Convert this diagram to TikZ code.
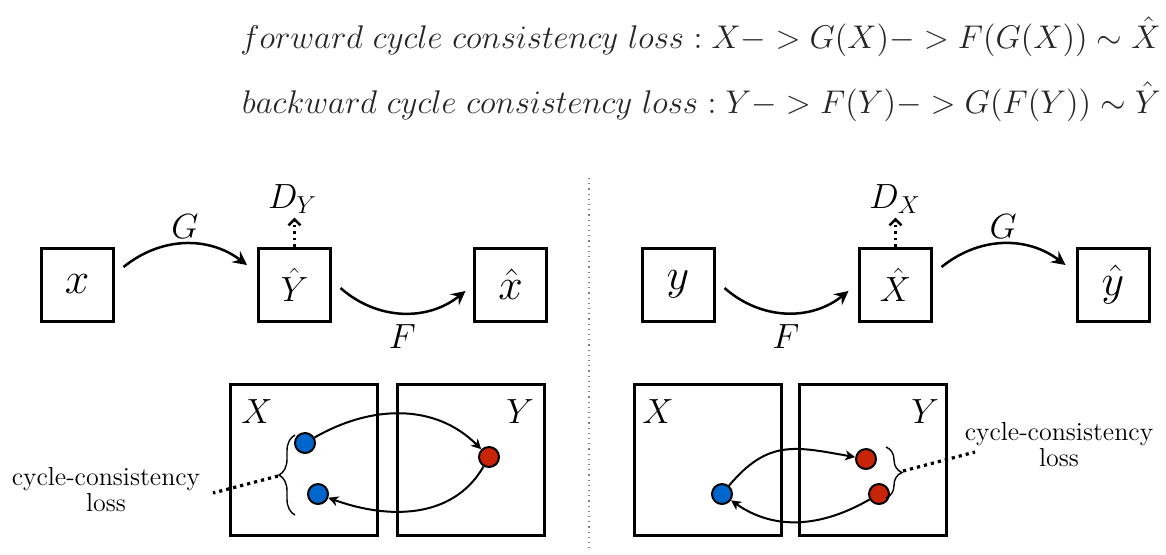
\RequirePackage{fix-cm}
\documentclass[tikz,border=0pt]{standalone}
\usetikzlibrary{arrows.meta,decorations.pathreplacing}
\definecolor{dotblue}{RGB}{0,102,204}
\definecolor{dotred}{RGB}{200,36,8}
\begin{document}
\begin{tikzpicture}[x=0.5pt,y=-0.5pt,
  mbox/.style={draw, line width=1.5pt, minimum width=36pt, minimum height=36.5pt, inner sep=0pt, font=\fontsize{22}{26}\selectfont},
  capbox/.style={mbox, font=\fontsize{17.5}{20}\selectfont},
  space/.style={draw, line width=1.5pt, minimum width=73.5pt, minimum height=75.5pt, inner sep=0pt},
  dotn/.style={circle, draw, line width=1pt, minimum size=10pt, inner sep=0pt},
  lbl/.style={font=\fontsize{17.5}{20}\selectfont},
  mainarrow/.style={line width=1.25pt, -{Stealth[length=7pt,width=7pt,inset=2.5pt]}},
  darrow/.style={line width=1.2pt, dotted, -{Straight Barb[length=3pt,width=6pt,line width=1.2pt]}},
  cyc/.style={line width=1pt, -{Stealth[length=5pt,width=5pt,inset=1.5pt]}},
  dotline/.style={line width=1.6pt, dash pattern=on 1.6pt off 2pt},
  bracest/.style={line width=0.7pt, decorate, decoration={brace, amplitude=8pt}},
  cltext/.style={align=center, font=\fontsize{13}{13}\selectfont, inner sep=5pt},
  formula/.style={anchor=base east, font=\fontsize{16.4}{20}\selectfont, text=black!85, inner sep=0pt}
]
\useasboundingbox (0,0) rectangle (1166,554);

% formulas
\node[formula] (f1) at (1161,48) {$forward\ cycle\ consistency\ loss : X- > G(X)- > F(G(X)) \sim \hat{X}$};
\node[formula] (f2) at (1161,113) {$backward\ cycle\ consistency\ loss : Y- > F(Y)- > G(F(Y)) \sim \hat{Y}$};

% separator
\coordinate (sepT) at (589,178);
\coordinate (sepB) at (589,552);
\draw[gray, dotted, line width=0.6pt] (sepT) -- (sepB);

% top row left
\node[mbox] (bx) at (77,284.5) {$x$};
\node[capbox] (bYh) at (294.5,284.5) {$\hat{Y}$};
\node[mbox] (bxh) at (510.5,284.5) {$\hat{x}$};
\node[lbl, anchor=base, inner sep=2pt] (dy) at (292.5,208) {$D_Y$};
\draw[mainarrow] ([shift={(9,-17.5)}]bx.east) to[bend left=38] node[lbl, above, inner sep=2pt] (lG) {$G$} ([shift={(-10,-19.5)}]bYh.west);
\draw[mainarrow] ([shift={(8.5,3.5)}]bYh.east) to[bend right=40] node[lbl, below, inner sep=5pt] (lF) {$F$} ([shift={(-7.5,6.5)}]bxh.west);
\draw[darrow] (bYh.north) -- (bYh.north |- dy.south);

% top row right
\node[mbox] (by) at (678,284.5) {$y$};
\node[capbox] (bXh) at (895.5,284.5) {$\hat{X}$};
\node[mbox] (byh) at (1113,284.5) {$\hat{y}$};
\node[lbl, anchor=base, inner sep=2pt] (dx) at (895,208) {$D_X$};
\draw[mainarrow] ([shift={(9,3.5)}]by.east) to[bend right=40] node[lbl, below, inner sep=5pt] (rF) {$F$} ([shift={(-9.5,6.5)}]bXh.west);
\draw[mainarrow] ([shift={(8.5,-17.5)}]bXh.east) to[bend left=38] node[lbl, above, inner sep=2pt] (rG) {$G$} ([shift={(-10,-19.5)}]byh.west);
\draw[darrow] (bXh.north) -- (bXh.north |- dx.south);

% bottom left
\node[space] (lX) at (304,460) {};
\node[space] (lY) at (470.5,460) {};
\node[lbl] (lXl) at (257,412) {$X$};
\node[lbl] (lYl) at (520,412) {$Y$};
\node[dotn, fill=dotblue] (lb1) at (305,443) {};
\node[dotn, fill=dotblue] (lb2) at (318,494) {};
\node[dotn, fill=dotred] (lr) at (489,457) {};
\draw[cyc] (lb1) to[out=30, in=135] (lr);
\draw[cyc] (lr) to[out=-120, in=-20] (lb2);
\coordinate (lbrB) at (295,515);
\coordinate (lbrT) at (295,435);
\draw[bracest] (lbrB) -- (lbrT);
\coordinate (lbt) at (278,476);
\node[cltext] (lcl) at (106,490) {cycle-consistency\\loss};
\coordinate (lde) at (213,493);
\draw[dotline] (lbt) -- (lde);

% bottom right
\node[space] (rX) at (708,460) {};
\node[space] (rY) at (873,460) {};
\node[lbl] (rXl) at (658,412) {$X$};
\node[lbl] (rYl) at (925,412) {$Y$};
\node[dotn, fill=dotblue] (rb) at (722,494) {};
\node[dotn, fill=dotred] (rr1) at (866,459) {};
\node[dotn, fill=dotred] (rr2) at (879,494) {};
\draw[cyc] (rb) to[out=50, in=170, looseness=1.2] (rr1);
\draw[cyc] (rr2) to[out=-150, in=-35] (rb);
\coordinate (rbrT) at (886,447);
\coordinate (rbrB) at (886,498);
\draw[bracest] (rbrT) -- (rbrB);
\coordinate (rbt) at (903,471);
\node[cltext] (rcl) at (1059,445) {cycle-consistency\\loss};
\coordinate (rde) at (975,452);
\draw[dotline] (rbt) -- (rde);
\end{tikzpicture}
\end{document}
